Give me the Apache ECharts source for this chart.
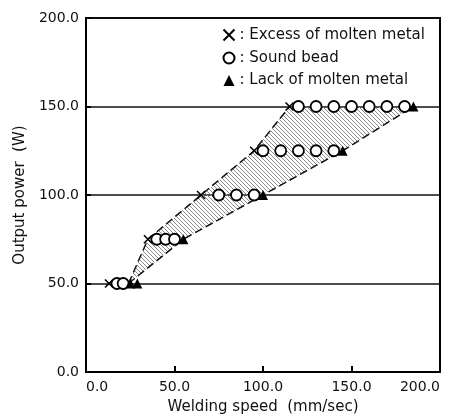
<!DOCTYPE html>
<html>
<head>
<meta charset="utf-8">
<script src="https://cdn.jsdelivr.net/npm/echarts@6/dist/echarts.min.js"></script>
<style>html,body{margin:0;padding:0;background:#fff;}#c{width:451px;height:414px;}</style>
</head>
<body>
<div id="c"></div>
<script>
// Data
const excessX = [13, 35, 65, 95, 115];
const excessY = [50, 75, 100, 125, 150];
const soundX = [17.5, 21, 40, 45, 50, 75, 85, 95, 100, 110, 120, 130, 140, 120, 130, 140, 150, 160, 170, 180];
const soundY = [50, 50, 75, 75, 75, 100, 100, 100, 125, 125, 125, 125, 125, 150, 150, 150, 150, 150, 150, 150];
const lackX = [25, 29, 55, 100, 145, 185];
const lackY = [50, 50, 75, 100, 125, 150];
const upperBoundX = [24, 35, 65, 95, 115];
const upperBoundY = [50, 75, 100, 125, 150];
const lowerBoundX = [24, 55, 100, 145, 185];
const lowerBoundY = [50, 75, 100, 125, 150];
const xTicks = [0, 50, 100, 150, 200];
const yTicks = [0, 50, 100, 150, 200];

const zip = (a, b) => a.map((v, i) => [v, b[i]]);

// hatch pattern
const pat = document.createElement('canvas');
pat.width = 8; pat.height = 8;
const pc = pat.getContext('2d');
pc.strokeStyle = '#8a8a8a';
pc.lineWidth = 1;
for (let k = -8; k <= 8; k += 4) {
  pc.beginPath();
  pc.moveTo(0, k);
  pc.lineTo(8, k + 8);
  pc.stroke();
}

const FONT = 'DejaVu Sans';
const chart = echarts.init(document.getElementById('c'));
chart.setOption({
  animation: false,
  backgroundColor: '#fff',
  textStyle: { fontFamily: FONT },
  grid: { left: 86, right: 11, top: 18, bottom: 42, show: true, borderColor: '#000', borderWidth: 2, backgroundColor: 'transparent', containLabel: false, outerBoundsMode: 'none' },
  legend: {
    orient: 'vertical',
    left: 216,
    top: 22,
    itemWidth: 11,
    itemHeight: 11,
    itemGap: 7.5,
    formatter: ': {name}',
    textStyle: { fontFamily: FONT, fontSize: 15, color: '#111' },
    data: [
      { name: 'Excess of molten metal', icon: 'path://M0,0L10,10M10,0L0,10' },
      { name: 'Sound bead', icon: 'circle' },
      { name: 'Lack of molten metal', icon: 'triangle' }
    ]
  },
  xAxis: {
    type: 'value', min: 0, max: 200, interval: 50,
    name: 'Welding speed  (mm/sec)', nameLocation: 'middle', nameGap: 28,
    nameTextStyle: { fontFamily: FONT, fontSize: 15, color: '#111' },
    axisLine: { lineStyle: { color: '#000', width: 2 } },
    axisTick: { inside: true, length: 6, lineStyle: { color: '#000', width: 2 } },
    axisLabel: { formatter: v => v.toFixed(1), fontFamily: FONT, fontSize: 14, color: '#111', margin: 8, alignMinLabel: 'left', alignMaxLabel: 'right' },
    splitLine: { show: false }
  },
  yAxis: {
    type: 'value', min: 0, max: 200, interval: 50,
    name: 'Output power  (W)', nameLocation: 'middle', nameGap: 54,
    nameTextStyle: { fontFamily: FONT, fontSize: 15, color: '#111' },
    axisLine: { lineStyle: { color: '#000', width: 2 } },
    axisTick: { inside: true, length: 5, lineStyle: { color: '#000', width: 2 } },
    axisLabel: { formatter: v => v.toFixed(1), fontFamily: FONT, fontSize: 14, color: '#111', margin: 7 },
    splitLine: { show: true, lineStyle: { color: '#111', width: 1.5 } }
  },
  series: [
    {
      type: 'custom',
      silent: true,
      data: [[0, 0]],
      z: 1,
      renderItem: function (params, api) {
        const pts = [];
        for (let i = 0; i < upperBoundX.length; i++) pts.push(api.coord([upperBoundX[i], upperBoundY[i]]));
        for (let i = lowerBoundX.length - 1; i >= 0; i--) pts.push(api.coord([lowerBoundX[i], lowerBoundY[i]]));
        return { type: 'polygon', shape: { points: pts }, style: { fill: { image: pat, repeat: 'repeat' }, stroke: null } };
      }
    },
    {
      type: 'line', data: zip(upperBoundX, upperBoundY), symbol: 'none', z: 2,
      lineStyle: { color: '#111', width: 1.5, type: [8, 4] }
    },
    {
      type: 'line', data: zip(lowerBoundX, lowerBoundY), symbol: 'none', z: 2,
      lineStyle: { color: '#111', width: 1.5, type: [8, 4] }
    },
    {
      name: 'Sound bead', type: 'scatter', data: zip(soundX, soundY), z: 3,
      symbol: 'circle', symbolSize: 11,
      itemStyle: { color: '#fff', borderColor: '#000', borderWidth: 1.8, opacity: 1 }
    },
    {
      name: 'Lack of molten metal', type: 'scatter', data: zip(lackX, lackY), z: 4,
      symbol: 'triangle', symbolSize: 10,
      itemStyle: { color: '#000', opacity: 1 }
    },
    {
      name: 'Excess of molten metal', type: 'scatter', data: zip(excessX, excessY), z: 5,
      symbol: 'path://M0,0L10,10M10,0L0,10', symbolSize: 8,
      itemStyle: { color: 'none', borderColor: '#000', borderWidth: 1.6, opacity: 1 }
    }
  ]
});
</script>
</body>
</html>
